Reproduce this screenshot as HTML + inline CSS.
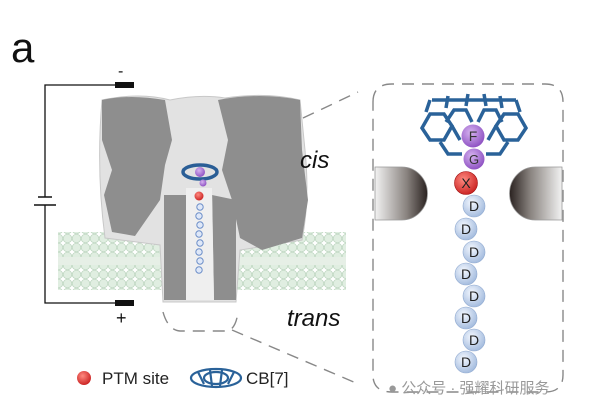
<!DOCTYPE html>
<html><head><style>
html,body{margin:0;padding:0;background:#fff;}
svg{display:block}
text{font-family:"Liberation Sans",sans-serif;}
</style></head><body>
<svg width="600" height="413" viewBox="0 0 600 413" xmlns="http://www.w3.org/2000/svg">
<defs>
<pattern id="mem" width="9" height="9" patternUnits="userSpaceOnUse">
<circle cx="4.5" cy="4.5" r="4.3" fill="#e0eee1" stroke="#bcd5bf" stroke-width="0.7"/>
</pattern>
<radialGradient id="gD" cx="0.4" cy="0.35" r="0.7"><stop offset="0" stop-color="#f4f8ff"/><stop offset="1" stop-color="#9fb8dc"/></radialGradient>
<radialGradient id="gR" cx="0.4" cy="0.35" r="0.7"><stop offset="0" stop-color="#ff8a80"/><stop offset="1" stop-color="#c81e1e"/></radialGradient>
<radialGradient id="gP" cx="0.4" cy="0.35" r="0.7"><stop offset="0" stop-color="#d6b3f0"/><stop offset="1" stop-color="#8a4cc0"/></radialGradient>
<linearGradient id="wl" x1="0" x2="1"><stop offset="0" stop-color="#f2f2f2"/><stop offset="0.6" stop-color="#8a8480"/><stop offset="1" stop-color="#2a2220"/></linearGradient>
<linearGradient id="wr" x1="1" x2="0"><stop offset="0" stop-color="#f2f2f2"/><stop offset="0.6" stop-color="#8a8480"/><stop offset="1" stop-color="#2a2220"/></linearGradient>
</defs>

<text x="11" y="62" font-size="42" fill="#111">a</text>

<!-- circuit -->
<polyline points="115,85 45,85 45,197" fill="none" stroke="#111" stroke-width="1.3"/>
<polyline points="45,205 45,303 115,303" fill="none" stroke="#111" stroke-width="1.3"/>
<line x1="38" y1="197" x2="52" y2="197" stroke="#111" stroke-width="1.5"/>
<line x1="34" y1="205" x2="56" y2="205" stroke="#111" stroke-width="1.5"/>
<rect x="115" y="82" width="19" height="6" fill="#111"/>
<rect x="115" y="300" width="19" height="6" fill="#111"/>
<text x="118" y="76" font-size="16" fill="#111">-</text>
<text x="116" y="324" font-size="18" fill="#111">+</text>

<!-- membrane -->
<rect x="58" y="232" width="108" height="58" fill="url(#mem)"/>
<rect x="237" y="232" width="109" height="58" fill="url(#mem)"/>
<line x1="58" y1="261" x2="166" y2="261" stroke="#e6efe6" stroke-width="8"/>
<line x1="237" y1="261" x2="346" y2="261" stroke="#e6efe6" stroke-width="8"/>

<!-- protein -->
<path d="M102,100 Q140,92 170,100 Q200,94 225,98 Q265,92 300,100 L305,150 Q310,200 302,240 L240,250 L236,302 L163,302 L160,245 L105,238 Q96,170 102,100Z" fill="#e2e2e2" stroke="#c8c8c8"/>
<path d="M102,100 Q130,94 165,100 L172,140 L165,165 L160,200 L135,236 L112,232 L104,195 L112,170 L102,140Z" fill="#8e8e8e"/>
<path d="M218,100 Q260,92 300,100 L302,150 L308,200 L302,238 L262,250 L240,238 L232,200 L222,170 L228,140Z" fill="#8e8e8e"/>
<path d="M164,195 L188,195 L186,300 L164,300Z" fill="#8e8e8e"/>
<path d="M212,195 L236,200 L236,300 L214,300Z" fill="#8e8e8e"/>
<path d="M186,188 L212,188 L214,300 L186,300Z" fill="#efefef"/>
<g fill="#dfe8f8" stroke="#6d8fc9" stroke-width="1">
<circle cx="200" cy="207" r="3.2"/><circle cx="199" cy="216" r="3.2"/><circle cx="200" cy="225" r="3.2"/><circle cx="199" cy="234" r="3.2"/><circle cx="200" cy="243" r="3.2"/><circle cx="199" cy="252" r="3.2"/><circle cx="200" cy="261" r="3.2"/><circle cx="199" cy="270" r="3.2"/>
</g>
<circle cx="199" cy="196" r="4.5" fill="url(#gR)"/>
<ellipse cx="200" cy="172" rx="17" ry="7" fill="none" stroke="#2a5e96" stroke-width="3.5"/>
<circle cx="200" cy="172" r="5" fill="url(#gP)"/>
<circle cx="203" cy="183" r="3.5" fill="url(#gP)"/>

<text x="300" y="168" font-size="24" font-style="italic" fill="#111">cis</text>
<text x="287" y="326" font-size="24" font-style="italic" fill="#111">trans</text>

<!-- dashed connectors -->
<g fill="none" stroke="#888" stroke-width="1.4" stroke-dasharray="12,8">
<line x1="303" y1="118" x2="358" y2="92"/>
<line x1="232" y1="330" x2="356" y2="383"/>
<path d="M163,312 Q168,330 180,331 L228,331 Q236,328 238,312"/>
<path d="M373,102 Q373,84 392,84 L545,84 Q563,84 563,102 L563,375 Q563,392 545,392 L392,392 Q373,392 373,375Z"/>
</g>

<!-- right detail -->
<path d="M375,167 L402,167 A25,26 0 0 1 402,220 L375,220Z" fill="url(#wl)" stroke="#999" stroke-width="0.8"/>
<path d="M562,167 L535,167 A25,26 0 0 0 535,220 L562,220Z" fill="url(#wr)" stroke="#999" stroke-width="0.8"/>

<g fill="none" stroke="#2a6299" stroke-width="3.5">
<path d="M422,128 L430,114 L444,114 L452,126 L444,140 L430,140Z"/>
<path d="M446,122 L454,110 L466,110 L472,122"/>
<path d="M478,122 L484,110 L496,110 L502,122"/>
<path d="M496,126 L504,114 L518,114 L526,128 L518,140 L504,140Z"/>
<path d="M440,142 L448,154 L462,154 M486,154 L500,154 L508,142"/>
<path d="M426,112 L430,100 M446,108 L448,96 M466,106 L468,94 M486,106 L484,94 M502,108 L500,96 M520,112 L516,100"/>
<path d="M452,126 L460,140 M496,126 L488,140 M432,100 L516,100"/>
</g>

<circle cx="474" cy="159" r="10.5" fill="url(#gP)"/>
<text x="474" y="164" font-size="13" text-anchor="middle" fill="#333">G</text>
<circle cx="473" cy="136" r="11.5" fill="url(#gP)"/>
<text x="473" y="141" font-size="14" text-anchor="middle" fill="#333">F</text>
<circle cx="466" cy="183" r="11.5" fill="url(#gR)" stroke="#a01010" stroke-width="0.6"/>
<text x="466" y="188" font-size="14" text-anchor="middle" fill="#222">X</text>

<g font-size="14" text-anchor="middle" fill="#222">
<circle cx="474" cy="206" r="11" fill="url(#gD)" stroke="#8ea8cf" stroke-width="0.6"/><text x="474" y="211">D</text>
<circle cx="466" cy="229" r="11" fill="url(#gD)" stroke="#8ea8cf" stroke-width="0.6"/><text x="466" y="234">D</text>
<circle cx="474" cy="252" r="11" fill="url(#gD)" stroke="#8ea8cf" stroke-width="0.6"/><text x="474" y="257">D</text>
<circle cx="466" cy="274" r="11" fill="url(#gD)" stroke="#8ea8cf" stroke-width="0.6"/><text x="466" y="279">D</text>
<circle cx="474" cy="296" r="11" fill="url(#gD)" stroke="#8ea8cf" stroke-width="0.6"/><text x="474" y="301">D</text>
<circle cx="466" cy="318" r="11" fill="url(#gD)" stroke="#8ea8cf" stroke-width="0.6"/><text x="466" y="323">D</text>
<circle cx="474" cy="340" r="11" fill="url(#gD)" stroke="#8ea8cf" stroke-width="0.6"/><text x="474" y="345">D</text>
<circle cx="466" cy="362" r="11" fill="url(#gD)" stroke="#8ea8cf" stroke-width="0.6"/><text x="466" y="367">D</text>
</g>

<!-- legend -->
<circle cx="84" cy="378" r="7" fill="url(#gR)"/>
<text x="102" y="384" font-size="17" fill="#222">PTM site</text>
<g fill="none" stroke="#2a6299" stroke-width="2.2">
<ellipse cx="216" cy="378" rx="25" ry="9"/>
<ellipse cx="216" cy="378" rx="12" ry="6"/>
<path d="M198,372 L204,384 M210,370 L212,386 M222,370 L220,386 M234,372 L228,384"/>
</g>
<text x="246" y="384" font-size="17" fill="#222">CB[7]</text>

<!-- watermark -->
<text x="388" y="393" font-size="15" fill="#999" font-family="Liberation Sans, Noto Sans CJK SC, sans-serif">● 公众号 · 强耀科研服务</text>
</svg>
</body></html>
